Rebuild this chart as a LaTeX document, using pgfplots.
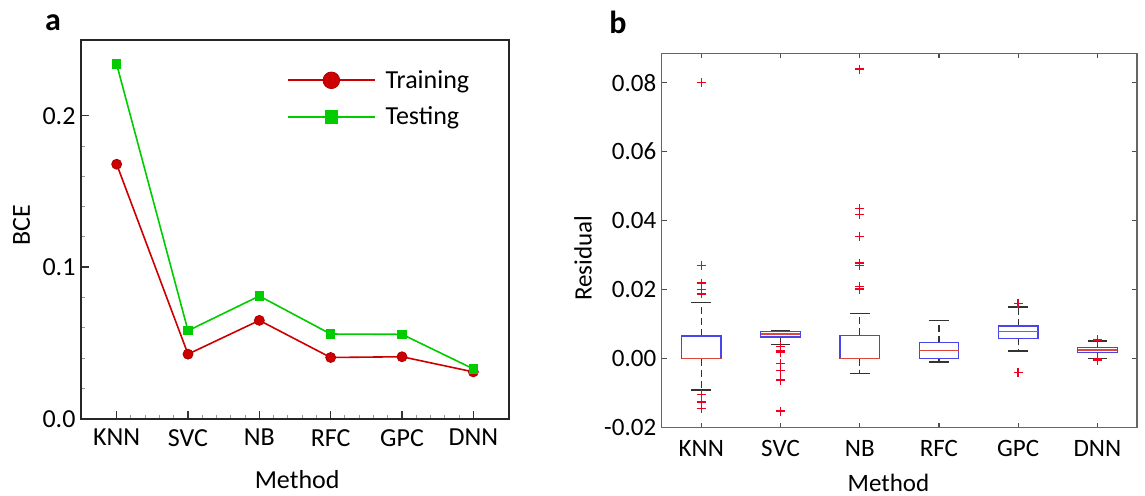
\documentclass[border=0pt]{standalone}
\usepackage{fontspec}
\setmainfont{Carlito}
\usepackage{pgfplots}
\pgfplotsset{compat=1.18}
\usepgfplotslibrary{statistics}
\definecolor{trainred}{RGB}{204,0,0}
\definecolor{testgreen}{RGB}{0,204,0}
\definecolor{boxblue}{RGB}{70,70,235}
\definecolor{medred}{RGB}{225,70,60}
\definecolor{outred}{RGB}{240,0,30}

\tikzset{mywhisk/.style={black!80, line width=1.3bp}}
\pgfplotsset{
  mybox/.style={
    outred, mark=+, mark size=4.6bp, mark options={draw=outred, line width=1.4bp, solid},
    boxplot/draw direction=y,
    boxplot/box extend=0.5,
    boxplot/draw/box/.code={%
      \draw[boxblue, line width=1.3bp]
        (boxplot box cs:\pgfplotsboxplotvalue{lower quartile},0)
        rectangle
        (boxplot box cs:\pgfplotsboxplotvalue{upper quartile},1);},
    boxplot/draw/median/.code={%
      \draw[medred, line width=1.4bp]
        (boxplot box cs:\pgfplotsboxplotvalue{median},0)
        --
        (boxplot box cs:\pgfplotsboxplotvalue{median},1);},
    boxplot/draw/lower whisker/.code={%
      \draw[mywhisk, dash pattern=on 7bp off 4bp]
        (boxplot cs:\pgfplotsboxplotvalue{lower quartile})
        --
        (boxplot cs:\pgfplotsboxplotvalue{lower whisker});
      \draw[mywhisk]
        (boxplot box cs:\pgfplotsboxplotvalue{lower whisker},0.25)
        --
        (boxplot box cs:\pgfplotsboxplotvalue{lower whisker},0.75);},
    boxplot/draw/upper whisker/.code={%
      \draw[mywhisk, dash pattern=on 7bp off 4bp]
        (boxplot cs:\pgfplotsboxplotvalue{upper quartile})
        --
        (boxplot cs:\pgfplotsboxplotvalue{upper whisker});
      \draw[mywhisk]
        (boxplot box cs:\pgfplotsboxplotvalue{upper whisker},0.25)
        --
        (boxplot box cs:\pgfplotsboxplotvalue{upper whisker},0.75);},
  },
}

\begin{document}
\begin{tikzpicture}
\useasboundingbox (0bp,0bp) rectangle (1145bp,496bp);

% ---------------- panel a ----------------
\begin{axis}[
  font=\fontsize{26bp}{31bp}\selectfont,
  at={(81bp,77.3bp)}, anchor=south west, scale only axis,
  width=428bp, height=378.7bp,
  xmin=-0.5, xmax=5.5, ymin=0, ymax=0.25,
  xtick={0,1,2,3,4,5}, xticklabels={KNN,SVC,NB,RFC,GPC,DNN},
  minor x tick num=4,
  ytick={0,0.1,0.2}, yticklabels={0.0,0.1,0.2},
  minor y tick num=4,
  scaled y ticks=false,
  xtick pos=bottom, ytick pos=left,
  tick align=inside,
  major tick length=8bp, minor tick length=4bp,
  axis line style={line width=1.8bp, black!85},
  major tick style={line width=1.5bp, black!80},
  minor tick style={line width=1bp, black!40},
  xticklabel style={yshift=-7bp},
  yticklabel style={xshift=-2bp},
  xlabel={Method}, ylabel={BCE},
  xlabel style={at={(axis description cs:0.505,-0.162)}, anchor=center},
  ylabel style={at={(axis description cs:-0.139,0.511)}, anchor=center},
  legend style={at={(axis description cs:0.481,0.925)}, anchor=north west,
    draw=none, fill=none, inner sep=0pt, row sep=13bp,
    font=\fontsize{26bp}{31bp}\selectfont,
    nodes={inner xsep=6bp, inner ysep=2bp},
    /tikz/every odd column/.append style={column sep=4bp}},
  legend cell align=left,
]
\addplot[trainred, line width=1.6bp, mark=*, mark size=5bp,
  mark options={fill=trainred, draw=trainred!85!black, line width=0.8bp},
  legend image code/.code={\draw[trainred, line width=1.6bp, mark repeat=2, mark phase=2, mark size=8.3bp]
     plot coordinates {(0bp,0bp) (43.5bp,0bp) (87bp,0bp)};}]
  coordinates {(0,0.168) (1,0.0426) (2,0.0649) (3,0.0404) (4,0.0409) (5,0.0309)};
\addlegendentry{Training}
\addplot[testgreen, line width=1.6bp, mark=square*, mark size=4bp,
  mark options={fill=testgreen, draw=testgreen},
  legend image code/.code={\draw[testgreen, line width=1.6bp, mark repeat=2, mark phase=2, mark size=6bp]
     plot coordinates {(0bp,0bp) (43.5bp,0bp) (87bp,0bp)};}]
  coordinates {(0,0.234) (1,0.0581) (2,0.0810) (3,0.0559) (4,0.0557) (5,0.0329)};
\addlegendentry{Testing}
\end{axis}

% ---------------- panel b ----------------
\begin{axis}[
  font=\fontsize{25bp}{30bp}\selectfont,
  at={(661.7bp,68.3bp)}, anchor=south west, scale only axis,
  width=475.3bp, height=374.4bp,
  xmin=0.5, xmax=6.5, ymin=-0.02, ymax=0.0885,
  xtick={1,2,3,4,5,6}, xticklabels={KNN,SVC,NB,RFC,GPC,DNN},
  ytick={-0.02,0,0.02,0.04,0.06,0.08},
  yticklabels={-0.02,0.00,0.02,0.04,0.06,0.08},
  scaled y ticks=false,
  xtick pos=both, ytick pos=both,
  tick align=inside, major tick length=5bp,
  axis line style={line width=1.4bp, black!60},
  major tick style={line width=1.2bp, black!70},
  xticklabel style={yshift=-9bp},
  yticklabel style={xshift=-2bp},
  xlabel={Method}, ylabel={Residual},
  xlabel style={at={(axis description cs:0.477,-0.148)}, anchor=center},
  ylabel style={at={(axis description cs:-0.1656,0.453)}, anchor=center},
]
% KNN
\addplot[mybox, boxplot prepared={draw position=1, lower whisker=-0.0091,
  lower quartile=0, median=0, upper quartile=0.0066, upper whisker=0.0163}]
  table[row sep=\\, y index=0] {0.080\\ 0.027\\ 0.0219\\ 0.0201\\ 0.0188\\ -0.0104\\ -0.0125\\ -0.0144\\};
% SVC
\addplot[mybox, boxplot prepared={draw position=2, lower whisker=0.0041,
  lower quartile=0.0063, median=0.0072, upper quartile=0.0079, upper whisker=0.0081}]
  table[row sep=\\, y index=0] {0.0035\\ 0.0023\\ 0.0021\\ 0.0019\\ -0.0014\\ -0.0035\\ -0.0062\\ -0.0152\\};
% NB
\addplot[mybox, boxplot prepared={draw position=3, lower whisker=-0.0043,
  lower quartile=0, median=0, upper quartile=0.0068, upper whisker=0.0131}]
  table[row sep=\\, y index=0] {0.0839\\ 0.0435\\ 0.0417\\ 0.0354\\ 0.0277\\ 0.0270\\ 0.0209\\ 0.0202\\};
% RFC
\addplot[mybox, boxplot prepared={draw position=4, lower whisker=-0.0010,
  lower quartile=0.0001, median=0.0023, upper quartile=0.0046, upper whisker=0.0111}]
  coordinates {};
% GPC
\addplot[mybox, boxplot prepared={draw position=5, lower whisker=0.0022,
  lower quartile=0.0059, median=0.0078, upper quartile=0.0095, upper whisker=0.0150}]
  table[row sep=\\, y index=0] {0.0160\\ -0.0040\\};
% DNN
\addplot[mybox, boxplot prepared={draw position=6, lower whisker=0.0000,
  lower quartile=0.0018, median=0.0025, upper quartile=0.0032, upper whisker=0.0051}]
  table[row sep=\\, y index=0] {0.0054\\ -0.0004\\ 0.0001\\};
\end{axis}

\node[font=\bfseries\fontsize{32bp}{36bp}\selectfont] at (53bp,473.5bp) {a};
\node[font=\bfseries\fontsize{32bp}{36bp}\selectfont] at (618bp,473.5bp) {b};
\end{tikzpicture}
\end{document}
